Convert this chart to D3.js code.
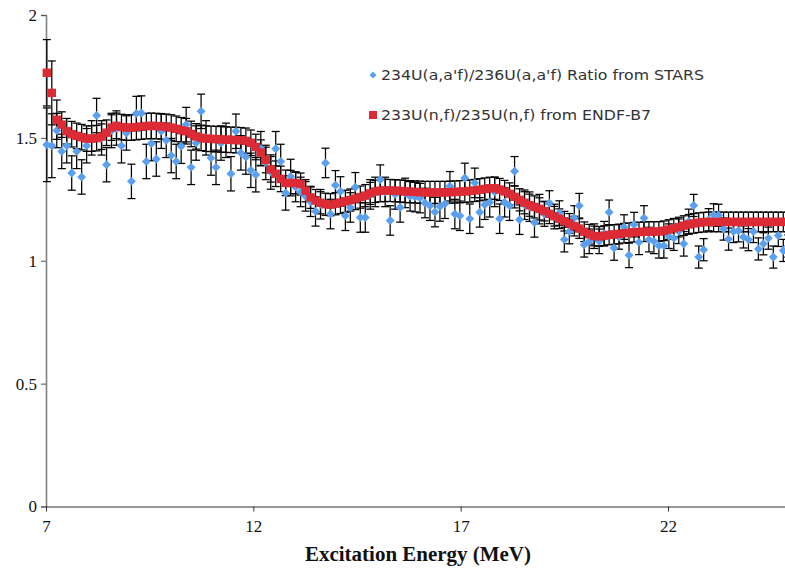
<!DOCTYPE html>
<html><head><meta charset="utf-8">
<script src="https://cdn.jsdelivr.net/npm/d3@7"></script>
<style>
html,body{margin:0;padding:0;background:#fff;}
svg{display:block;}
</style>
</head><body>
<svg id="chart" width="785" height="573"></svg>
<script>
const energy = [7.02,7.14,7.26,7.38,7.50,7.62,7.74,7.86,7.98,8.10,
8.22,8.34,8.46,8.58,8.70,8.82,8.94,9.06,9.18,9.30,
9.42,9.54,9.66,9.78,9.90,10.02,10.14,10.26,10.38,10.50,
10.62,10.74,10.86,10.98,11.10,11.22,11.34,11.46,11.58,11.70,
11.82,11.94,12.06,12.18,12.30,12.42,12.54,12.66,12.78,12.90,
13.02,13.14,13.26,13.38,13.50,13.62,13.74,13.86,13.98,14.10,
14.22,14.34,14.46,14.58,14.70,14.82,14.94,15.06,15.18,15.30,
15.42,15.54,15.66,15.78,15.90,16.02,16.14,16.26,16.38,16.50,
16.62,16.74,16.86,16.98,17.10,17.22,17.34,17.46,17.58,17.70,
17.82,17.94,18.06,18.18,18.30,18.42,18.54,18.66,18.78,18.90,
19.02,19.14,19.26,19.38,19.50,19.62,19.74,19.86,19.98,20.10,
20.22,20.34,20.46,20.58,20.70,20.82,20.94,21.06,21.18,21.30,
21.42,21.54,21.66,21.78,21.90,22.02,22.14,22.26,22.38,22.50,
22.62,22.74,22.86,22.98,23.10,23.22,23.34,23.46,23.58,23.70,
23.82,23.94,24.06,24.18,24.30,24.42,24.54,24.66,24.78,24.90];

const ratioSTARS = [1.472,1.468,1.53,1.445,1.468,1.357,1.445,1.341,1.468,1.50,
1.591,1.50,1.391,1.53,1.54,1.468,1.52,1.323,1.599,1.601,
1.404,1.477,1.414,1.527,1.490,1.428,1.404,1.466,1.554,1.380,
1.479,1.608,1.50,1.418,1.380,1.479,1.49,1.354,1.527,1.439,
1.422,1.368,1.350,1.456,1.40,1.361,1.456,1.404,1.276,1.343,
1.30,1.28,1.262,1.24,1.201,1.23,1.398,1.190,1.307,1.282,
1.183,1.217,1.299,1.176,1.176,1.27,1.28,1.330,1.28,1.164,
1.27,1.217,1.276,1.262,1.259,1.255,1.235,1.224,1.198,1.221,
1.232,1.303,1.190,1.183,1.337,1.171,1.317,1.197,1.228,1.238,
1.28,1.171,1.238,1.224,1.364,1.167,1.228,1.22,1.156,1.21,
1.19,1.235,1.18,1.194,1.086,1.119,1.174,1.224,1.065,1.079,
1.10,1.079,1.11,1.197,1.052,1.097,1.137,1.022,1.147,1.075,
1.174,1.086,1.079,1.061,1.061,1.10,1.092,1.12,1.069,1.160,
1.225,1.015,1.045,1.167,1.187,1.185,1.129,1.088,1.119,1.122,
1.097,1.086,1.119,1.048,1.069,1.092,1.015,1.103,1.042,1.06];

const errSTARS = [0.15,0.13,0.07,0.07,0.07,0.07,0.07,0.07,0.07,0.07,
0.07,0.07,0.07,0.07,0.07,0.07,0.07,0.07,0.07,0.07,
0.07,0.07,0.07,0.07,0.07,0.07,0.07,0.07,0.07,0.07,
0.07,0.07,0.07,0.07,0.07,0.07,0.07,0.07,0.07,0.07,
0.07,0.07,0.07,0.07,0.07,0.07,0.07,0.07,0.07,0.07,
0.06,0.06,0.06,0.06,0.06,0.06,0.06,0.06,0.06,0.06,
0.06,0.06,0.06,0.06,0.06,0.06,0.06,0.06,0.06,0.06,
0.06,0.06,0.06,0.06,0.06,0.06,0.06,0.06,0.06,0.06,
0.06,0.06,0.06,0.06,0.06,0.06,0.06,0.06,0.06,0.06,
0.06,0.06,0.06,0.06,0.06,0.06,0.06,0.06,0.06,0.06,
0.05,0.05,0.05,0.05,0.05,0.05,0.05,0.05,0.05,0.05,
0.05,0.05,0.05,0.05,0.05,0.05,0.05,0.05,0.05,0.05,
0.05,0.05,0.05,0.05,0.05,0.05,0.05,0.05,0.05,0.05,
0.045,0.045,0.045,0.045,0.045,0.045,0.045,0.045,0.045,0.045,
0.045,0.045,0.045,0.045,0.045,0.045,0.045,0.045,0.045,0.045];

const ratioENDF = [1.765,1.683,1.574,1.554,1.527,1.515,1.508,1.503,1.497,1.497,
1.499,1.505,1.521,1.542,1.549,1.544,1.542,1.542,1.544,1.546,
1.548,1.549,1.548,1.547,1.545,1.542,1.537,1.531,1.527,1.516,
1.506,1.500,1.497,1.496,1.495,1.494,1.493,1.492,1.491,1.490,
1.488,1.480,1.463,1.440,1.410,1.372,1.354,1.333,1.317,1.316,
1.317,1.312,1.285,1.258,1.245,1.236,1.230,1.228,1.232,1.237,
1.242,1.247,1.253,1.259,1.265,1.274,1.282,1.285,1.286,1.286,
1.285,1.284,1.282,1.281,1.280,1.279,1.278,1.278,1.278,1.278,
1.278,1.279,1.280,1.281,1.282,1.284,1.286,1.289,1.292,1.295,
1.295,1.290,1.282,1.272,1.260,1.248,1.236,1.226,1.219,1.211,
1.202,1.191,1.181,1.171,1.161,1.152,1.141,1.131,1.118,1.108,
1.101,1.099,1.102,1.105,1.107,1.109,1.112,1.114,1.116,1.117,
1.118,1.119,1.119,1.119,1.122,1.127,1.132,1.137,1.143,1.148,
1.152,1.155,1.157,1.158,1.158,1.158,1.158,1.158,1.158,1.158,
1.158,1.158,1.158,1.158,1.158,1.158,1.158,1.158,1.158,1.158];

const errENDF = [0.135,0.13,0.08,0.052,0.052,0.052,0.052,0.052,0.052,0.052,
0.052,0.052,0.052,0.052,0.052,0.052,0.052,0.052,0.052,0.052,
0.052,0.052,0.052,0.052,0.052,0.052,0.052,0.052,0.052,0.052,
0.052,0.052,0.052,0.052,0.052,0.052,0.052,0.052,0.052,0.052,
0.052,0.052,0.052,0.052,0.052,0.052,0.052,0.052,0.052,0.052,
0.045,0.045,0.045,0.045,0.045,0.045,0.045,0.045,0.045,0.045,
0.045,0.045,0.045,0.045,0.045,0.045,0.045,0.045,0.045,0.045,
0.045,0.045,0.045,0.045,0.045,0.045,0.045,0.045,0.045,0.045,
0.045,0.045,0.045,0.045,0.045,0.045,0.045,0.045,0.045,0.045,
0.045,0.045,0.045,0.045,0.045,0.045,0.045,0.045,0.045,0.045,
0.04,0.04,0.04,0.04,0.04,0.04,0.04,0.04,0.04,0.04,
0.04,0.04,0.04,0.04,0.04,0.04,0.04,0.04,0.04,0.04,
0.04,0.04,0.04,0.04,0.04,0.04,0.04,0.04,0.04,0.04,
0.04,0.04,0.04,0.04,0.04,0.04,0.04,0.04,0.04,0.04,
0.04,0.04,0.04,0.04,0.04,0.04,0.04,0.04,0.04,0.04];

const xTicks = [7,12,17,22];
const yTicks = [0,0.5,1,1.5,2];
const seriesNames = ["234U(a,a'f)/236U(a,a'f) Ratio from STARS", "233U(n,f)/235U(n,f) from ENDF-B7"];
const xTitle = "Excitation Energy (MeV)";

const blueData = energy.map((e,i)=>({e, v: ratioSTARS[i], err: errSTARS[i]}));
const redData = energy.map((e,i)=>({e, v: ratioENDF[i], err: errENDF[i]}));

const svg = d3.select("#chart");
const x = d3.scaleLinear().domain([7,25]).range([46, 792.4]);
const y = d3.scaleLinear().domain([0,2]).range([506.5, 15]);

const BLUE = "#5ba0ee", RED = "#dc2b35";

// axes
const yAxis = d3.axisLeft(y).tickValues(yTicks).tickSize(5).tickFormat(d3.format("~g"));
const gy = svg.append("g").attr("transform","translate(46,0)").call(yAxis);
gy.select(".domain").attr("stroke","#808080").attr("stroke-width",1.6);
gy.selectAll(".tick line").attr("stroke","#555");
gy.selectAll(".tick text").attr("font-family","'Liberation Serif','Times New Roman',serif")
  .attr("font-size",17).attr("fill","#111").attr("x",-9);

const xAxis = d3.axisBottom(x).tickValues(xTicks).tickSize(5).tickSizeOuter(0);
const gx = svg.append("g").attr("transform","translate(0,506.5)").call(xAxis);
gx.select(".domain").attr("stroke","#333").attr("stroke-width",1.2);
gx.selectAll(".tick line").attr("stroke","#333");
gx.selectAll(".tick text").attr("font-family","'Liberation Serif','Times New Roman',serif")
  .attr("font-size",17).attr("fill","#111").attr("dy","1.05em");

svg.append("text").attr("x",418).attr("y",561).attr("text-anchor","middle")
  .attr("font-family","'Liberation Serif','Times New Roman',serif").attr("font-weight","bold")
  .attr("font-size",20).attr("fill","#111")
  .attr("textLength",226).attr("lengthAdjust","spacingAndGlyphs").text(xTitle);

// error bars
function errorBars(data){
  const g = svg.append("g").attr("stroke","#000").attr("stroke-width",1.25).attr("fill","none");
  const cap = 4;
  data.forEach(d=>{
    const cx = x(d.e), y1 = y(d.v + d.err), y2 = y(d.v - d.err);
    g.append("line").attr("x1",cx).attr("x2",cx).attr("y1",y1).attr("y2",y2);
    g.append("line").attr("x1",cx-cap).attr("x2",cx+cap).attr("y1",y1).attr("y2",y1);
    g.append("line").attr("x1",cx-cap).attr("x2",cx+cap).attr("y1",y2).attr("y2",y2);
  });
}
errorBars(blueData);
errorBars(redData);

svg.append("g").selectAll("path").data(blueData).join("path")
  .attr("d", d3.symbol().type(d3.symbolSquare).size(40))
  .attr("transform", d=>`translate(${x(d.e)},${y(d.v)}) rotate(45)`)
  .attr("fill", BLUE);

svg.append("g").selectAll("rect").data(redData).join("rect")
  .attr("x", d=>x(d.e)-4.2).attr("y", d=>y(d.v)-4.2)
  .attr("width",8.4).attr("height",8.4).attr("fill",RED);

// legend
const lg = svg.append("g").attr("font-family","'DejaVu Sans',Verdana,sans-serif").attr("font-size",14).attr("fill","#333");
lg.append("path").attr("d", d3.symbol().type(d3.symbolSquare).size(24))
  .attr("transform","translate(373,75) rotate(45)").attr("fill",BLUE);
lg.append("text").attr("x",381).attr("y",80).attr("textLength",323).attr("lengthAdjust","spacingAndGlyphs").text(seriesNames[0]);
lg.append("rect").attr("x",369).attr("y",111).attr("width",8).attr("height",8).attr("fill",RED);
lg.append("text").attr("x",381).attr("y",120).attr("textLength",270).attr("lengthAdjust","spacingAndGlyphs").text(seriesNames[1]);
</script>
</body></html>
